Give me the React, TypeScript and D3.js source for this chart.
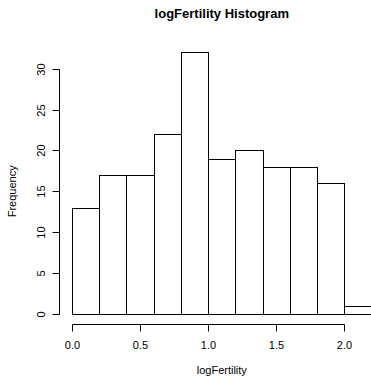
import React from "react";
import * as d3 from "d3";

const binStarts = [0, 0.2, 0.4, 0.6, 0.8, 1.0, 1.2, 1.4, 1.6, 1.8, 2.0];
const binWidth = 0.2;
const counts = [13, 17, 17, 22, 32, 19, 20, 18, 18, 16, 1];
const xTicks = [0, 0.5, 1.0, 1.5, 2.0];
const yTicks = [0, 5, 10, 15, 20, 25, 30];
const title = "logFertility Histogram";
const xLabel = "logFertility";
const yLabel = "Frequency";

const W = 371;
const H = 378;
const FONT = "'Liberation Sans', Arial, Helvetica, sans-serif";

export default function App() {
  const x = d3.scaleLinear().domain([0, 2]).range([72, 344.3]);
  const y = d3.scaleLinear().domain([0, 30]).range([314, 68.7]);
  const axisY = 324.5;
  const axisX = 59.5;
  const tickLen = 7;
  return (
    <svg width={W} height={H} style={{ position: "absolute", left: 0, top: 0, background: "#fff" }}>
      <rect x={0} y={0} width={W} height={H} fill="#fff" />
      <text x={221.8} y={18} textAnchor="middle" fontFamily={FONT} fontWeight="bold" fontSize={13} fill="#000">
        {title}
      </text>
      {counts.map((c, i) => {
        const x0 = Math.round(x(binStarts[i])) + 0.5;
        const x1 = Math.round(x(binStarts[i] + binWidth)) + 0.5;
        const yt = Math.round(y(c)) + 0.5;
        const yb = Math.round(y(0)) + 0.5;
        return (
          <rect key={i} x={x0} y={yt} width={x1 - x0} height={yb - yt} fill="#fff" stroke="#000" strokeWidth={1} />
        );
      })}
      {/* x axis */}
      <line x1={Math.round(x(0)) + 0.5} x2={Math.round(x(2)) + 0.5} y1={axisY} y2={axisY} stroke="#000" />
      {xTicks.map((t) => {
        const xx = Math.round(x(t)) + 0.5;
        return (
          <g key={t}>
            <line x1={xx} x2={xx} y1={axisY} y2={axisY + tickLen} stroke="#000" />
            <text x={xx} y={349} textAnchor="middle" fontFamily={FONT} fontSize={11} fill="#000">
              {t.toFixed(1)}
            </text>
          </g>
        );
      })}
      {/* y axis */}
      <line x1={axisX} x2={axisX} y1={Math.round(y(0)) + 0.5} y2={Math.round(y(30)) + 0.5} stroke="#000" />
      {yTicks.map((t) => {
        const yy = Math.round(y(t)) + 0.5;
        return (
          <g key={t}>
            <line x1={axisX - tickLen} x2={axisX} y1={yy} y2={yy} stroke="#000" />
            <text
              transform={`translate(44.5,${yy}) rotate(-90)`}
              textAnchor="middle"
              fontFamily={FONT}
              fontSize={11}
              fill="#000"
            >
              {t}
            </text>
          </g>
        );
      })}
      <text x={221.8} y={373.5} textAnchor="middle" fontFamily={FONT} fontSize={11} fill="#000">
        {xLabel}
      </text>
      <text
        transform={`translate(16,${(y(0) + y(30)) / 2}) rotate(-90)`}
        textAnchor="middle"
        fontFamily={FONT}
        fontSize={11}
        fill="#000"
      >
        {yLabel}
      </text>
    </svg>
  );
}
